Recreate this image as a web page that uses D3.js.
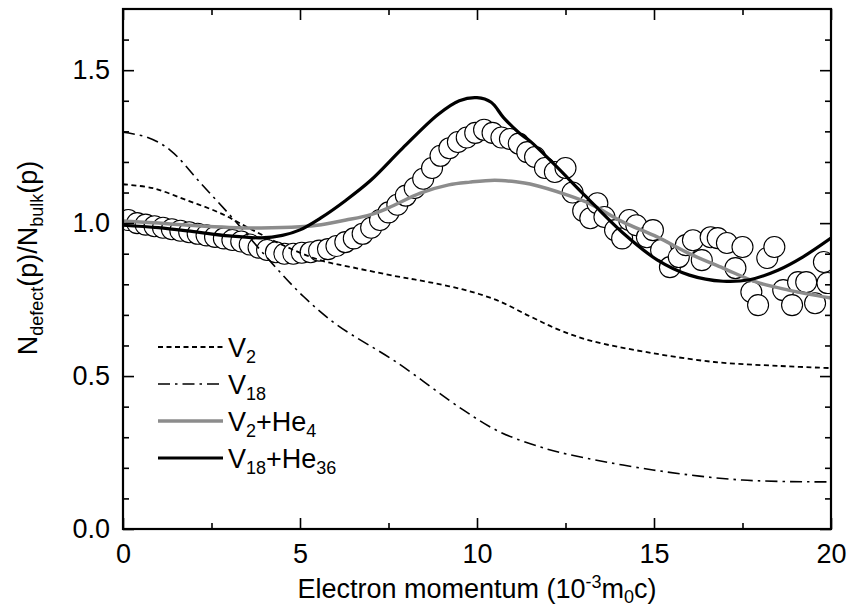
<!DOCTYPE html>
<html><head><meta charset="utf-8">
<script src="https://cdn.jsdelivr.net/npm/d3@7"></script>
<style>body{margin:0;background:#fff}svg{display:block}text{font-family:"Liberation Sans",Arial,sans-serif;fill:#000}</style>
</head><body>
<svg id="c" width="847" height="610"></svg>
<script>
// ---- data ----
const expX = [0.15,0.40,0.64,0.89,1.13,1.38,1.62,1.87,2.11,2.36,2.60,2.85,3.09,3.34,3.58,3.83,4.07,4.32,4.56,4.81,5.05,5.30,5.54,5.79,6.03,6.28,6.52,6.77,7.01,7.26,7.50,7.75,7.99,8.24,8.48,8.73,8.97,9.22,9.46,9.71,9.95,10.20,10.44,10.69,10.93,11.18,11.42,11.64,11.92,12.20,12.50,12.70,13.00,13.20,13.40,13.60,13.90,14.10,14.30,14.50,14.80,14.97,15.20,15.45,15.70,15.90,16.10,16.35,16.60,16.80,17.06,17.30,17.50,17.75,17.94,18.20,18.40,18.65,18.90,19.07,19.30,19.55,19.80,19.90];
const expY = [1.010,1.000,0.995,0.990,0.985,0.980,0.975,0.970,0.965,0.960,0.955,0.950,0.945,0.940,0.930,0.920,0.912,0.905,0.900,0.900,0.903,0.905,0.910,0.915,0.925,0.938,0.950,0.965,0.985,1.010,1.035,1.060,1.090,1.115,1.145,1.180,1.220,1.245,1.265,1.280,1.295,1.305,1.295,1.280,1.275,1.260,1.232,1.216,1.180,1.167,1.180,1.100,1.040,1.016,1.065,1.020,0.977,0.950,1.010,0.993,0.954,0.977,0.912,0.856,0.889,0.928,0.944,0.879,0.954,0.951,0.935,0.853,0.922,0.775,0.732,0.886,0.922,0.781,0.732,0.807,0.807,0.738,0.873,0.804];

const v2X  = [0,0.85,1.8,2.74,3.67,4.63,5.56,6.5,7.73,8.6,9.6,10.56,11.5,12.3,13.2,14.8,16.7,18.56,20];
const v2Y  = [1.127,1.114,1.075,1.033,0.977,0.922,0.879,0.855,0.826,0.808,0.783,0.748,0.695,0.652,0.616,0.578,0.546,0.533,0.526];
const v18X = [0,0.7,1.33,2.2,3.2,4.2,5.1,6.05,7.73,9.6,10.65,11.8,12.54,14.97,17.5,20];
const v18Y = [1.297,1.28,1.239,1.13,1.003,0.87,0.76,0.667,0.545,0.39,0.317,0.268,0.245,0.193,0.160,0.154];
const v2heX = [0,1,2,3,3.9,5,5.6,6.3,7,7.5,8.4,9.2,9.8,10.5,11.1,11.5,12.6,13.2,14.1,15.1,16,16.95,17.9,18.8,20];
const v2heY = [1.007,1.0,0.992,0.986,0.984,0.988,0.995,1.01,1.028,1.05,1.098,1.125,1.134,1.14,1.135,1.128,1.09,1.063,1.005,0.954,0.9,0.853,0.807,0.781,0.755];
const v18heX = [0,1,2,3,3.9,4.5,5,5.6,6.3,7,7.9,8.9,9.5,10,10.4,10.75,11.2,11.5,12.15,13.05,14.1,15.1,16,16.95,17.7,18.5,19.2,20];
const v18heY = [0.993,0.985,0.972,0.958,0.952,0.96,0.978,1.018,1.075,1.14,1.245,1.355,1.400,1.41,1.395,1.345,1.294,1.268,1.196,1.09,0.97,0.879,0.83,0.81,0.815,0.846,0.889,0.951];

const xMajor = [0,5,10,15,20];
const xMinor = [2.5,7.5,12.5,17.5];
const yMajor = [0,0.5,1.0,1.5];
const yMinor = [0.1,0.2,0.3,0.4,0.6,0.7,0.8,0.9,1.1,1.2,1.3,1.4,1.6];

// ---- drawing ----
const L=123,R=831,T=9,B=529;
const FS=27, SFS=18;
const x=d3.scaleLinear().domain([0,20]).range([L,R]);
const y=d3.scaleLinear().domain([0,1.7]).range([B,T]);
const svg=d3.select("#c");

svg.append("defs").append("clipPath").attr("id","clip").append("rect")
  .attr("x",L).attr("y",T).attr("width",R-L).attr("height",B-T);
const plot=svg.append("g").attr("clip-path","url(#clip)");

// experimental circles
plot.selectAll("circle.exp").data(expX.map((d,i)=>[d,expY[i]])).enter().append("circle")
  .attr("cx",d=>x(d[0])).attr("cy",d=>y(d[1])).attr("r",10.5)
  .attr("fill","#fff").attr("stroke","#000").attr("stroke-width",1.1);

const line=d3.line().x(d=>x(d[0])).y(d=>y(d[1])).curve(d3.curveCatmullRom.alpha(0.5));
const zip=(a,b)=>a.map((d,i)=>[d,b[i]]);
const series=[
  {name:"V2", xs:v2X, ys:v2Y, color:"#000", w:1.8, dash:"5,3.5"},
  {name:"V18", xs:v18X, ys:v18Y, color:"#000", w:1.6, dash:"12,5,2.5,5"},
  {name:"V2He4", xs:v2heX, ys:v2heY, color:"#8c8c8c", w:3.5, dash:null},
  {name:"V18He36", xs:v18heX, ys:v18heY, color:"#000", w:3.2, dash:null}
];
series.forEach(s=>{
  plot.append("path").datum(zip(s.xs,s.ys)).attr("d",line).attr("fill","none")
    .attr("stroke",s.color).attr("stroke-width",s.w).attr("stroke-dasharray",s.dash);
});

// axes
function ax(gen,sel,vals,size,labels){
  const g=svg.append("g").attr("transform",sel).call(gen.tickValues(vals).tickSize(size).tickPadding(8)
    .tickFormat(labels?labels:()=>""));
  g.select(".domain").remove();
  g.selectAll(".tick line").attr("stroke","#000").attr("stroke-width",1.6);
  g.selectAll("text").style("font-size",FS+"px").style("font-family","Liberation Sans, Arial, sans-serif");
  return g;
}
ax(d3.axisBottom(x),`translate(0,${B})`,xMajor,-11,d=>d3.format("d")(d)).selectAll("text").attr("dy",null).attr("y",34);
ax(d3.axisBottom(x),`translate(0,${B})`,xMinor,-6,null);
ax(d3.axisTop(x),`translate(0,${T})`,xMajor,-11,null);
ax(d3.axisTop(x),`translate(0,${T})`,xMinor,-6,null);
ax(d3.axisLeft(y),`translate(${L},0)`,yMajor,-11,d=>d3.format(".1f")(d)).selectAll("text").attr("x",-13);
ax(d3.axisLeft(y),`translate(${L},0)`,yMinor,-6,null);
ax(d3.axisRight(y),`translate(${R},0)`,yMajor,-11,null);
ax(d3.axisRight(y),`translate(${R},0)`,yMinor,-6,null);

svg.append("rect").attr("x",L).attr("y",T).attr("width",R-L).attr("height",B-T)
  .attr("fill","none").attr("stroke","#000").attr("stroke-width",2.2);

// axis titles
const xt=svg.append("text").attr("x",x(10)).attr("y",598).attr("text-anchor","middle").style("font-size",FS+"px");
xt.append("tspan").text("Electron momentum (10");
xt.append("tspan").attr("dy",-10).style("font-size",SFS+"px").text("-3");
xt.append("tspan").attr("dy",10).text("m");
xt.append("tspan").attr("dy",5).style("font-size",SFS+"px").text("0");
xt.append("tspan").attr("dy",-5).text("c)");

const yt=svg.append("text").attr("transform",`translate(37,${258}) rotate(-90)`).attr("text-anchor","middle").style("font-size",FS+"px");
yt.append("tspan").text("N");
yt.append("tspan").attr("dy",6).style("font-size",SFS+"px").text("defect");
yt.append("tspan").attr("dy",-6).text("(p)/N");
yt.append("tspan").attr("dy",6).style("font-size",SFS+"px").text("bulk");
yt.append("tspan").attr("dy",-6).text("(p)");

// legend
const leg=[
  {s:series[0], main:"V", sub:"2", rest:[]},
  {s:series[1], main:"V", sub:"18", rest:[]},
  {s:series[2], main:"V", sub:"2", rest:[["+He",false],["4",true]]},
  {s:series[3], main:"V", sub:"18", rest:[["+He",false],["36",true]]}
];
leg.forEach((e,i)=>{
  const yy=347+i*37;
  svg.append("line").attr("x1",158).attr("x2",223).attr("y1",yy).attr("y2",yy)
    .attr("stroke",e.s.color).attr("stroke-width",e.s.w).attr("stroke-dasharray",e.s.dash);
  const t=svg.append("text").attr("x",228).attr("y",yy+10).style("font-size",FS+"px");
  t.append("tspan").text(e.main);
  t.append("tspan").attr("dy",6).style("font-size",SFS+"px").text(e.sub);
  let down=true;
  e.rest.forEach(r=>{
    if(r[1]){ t.append("tspan").attr("dy",6).style("font-size",SFS+"px").text(r[0]); down=true; }
    else { t.append("tspan").attr("dy",down?-6:0).text(r[0]); down=false; }
  });
});
</script>
</body></html>
